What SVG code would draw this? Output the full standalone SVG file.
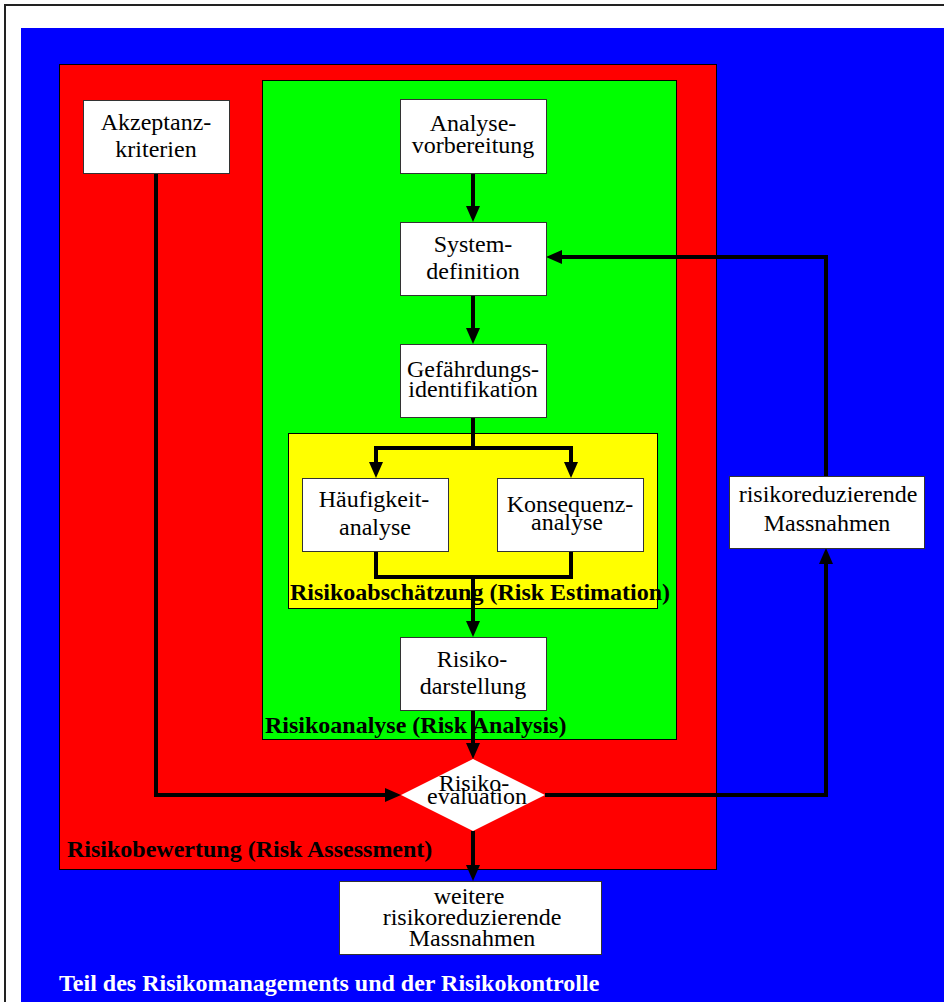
<svg xmlns="http://www.w3.org/2000/svg" width="944" height="1002" viewBox="0 0 944 1002">
  <defs>
    <style>
      .frame { fill: #ffffff; stroke: #222222; stroke-width: 2; }
      .zone { stroke: #000000; stroke-width: 1; }
      .box { fill: #ffffff; stroke: #333333; stroke-width: 1; }
      .txt { font-family: "Liberation Serif", "Times New Roman", serif; font-size: 24px; fill: #000000; text-anchor: middle; }
      .lbl { font-family: "Liberation Serif", "Times New Roman", serif; font-size: 24px; font-weight: bold; fill: #000000; }
      .wire { fill: none; stroke: #000000; stroke-width: 4; stroke-linejoin: miter; }
    </style>
    <marker id="arrow" markerUnits="userSpaceOnUse" markerWidth="16" markerHeight="14" refX="10" refY="7" orient="auto">
      <path d="M0,0 L16,7 L0,14 z" fill="#000000"/>
    </marker>
  </defs>

  <!-- page frame -->
  <rect class="frame" x="5" y="5" width="950" height="1010"/>

  <!-- nested zones -->
  <g id="zone-management">
    <rect x="21" y="28" width="930" height="980" fill="#0000ff"/>
    <text class="lbl" x="59" y="991" fill="#ffffff" style="fill:#ffffff">Teil des Risikomanagements und der Risikokontrolle</text>
  </g>
  <g id="zone-assessment">
    <rect class="zone" x="59.5" y="64.5" width="657" height="805" fill="#ff0000"/>
    <text class="lbl" x="67" y="857">Risikobewertung (Risk Assessment)</text>
  </g>
  <g id="zone-analysis">
    <rect class="zone" x="262.5" y="80.5" width="414" height="659" fill="#00ff00"/>
    <text class="lbl" x="265" y="733">Risikoanalyse (Risk Analysis)</text>
  </g>
  <g id="zone-estimation">
    <rect class="zone" x="288.5" y="433.5" width="369" height="175" fill="#ffff00"/>
    <text class="lbl" x="290" y="600">Risikoabschätzung (Risk Estimation)</text>
  </g>

  <!-- connectors -->
  <g id="connectors">
    <path class="wire" d="M473,173 V216" marker-end="url(#arrow)"/>
    <path class="wire" d="M473,295 V338" marker-end="url(#arrow)"/>
    <path class="wire" d="M473,417 V448"/>
    <path class="wire" d="M473,448 H376 V472" marker-end="url(#arrow)"/>
    <path class="wire" d="M473,448 H571 V472" marker-end="url(#arrow)"/>
    <path class="wire" d="M376,551 V577 H571 V551"/>
    <path class="wire" d="M473,577 V631" marker-end="url(#arrow)"/>
    <path class="wire" d="M473,710 V753" marker-end="url(#arrow)"/>
    <path class="wire" d="M156,173 V795 H395" marker-end="url(#arrow)"/>
    <path class="wire" d="M545,795 H826 V554" marker-end="url(#arrow)"/>
    <path class="wire" d="M826,476 V257 H552" marker-end="url(#arrow)"/>
    <path class="wire" d="M473,831 V875" marker-end="url(#arrow)"/>
  </g>

  <!-- nodes -->
  <g id="akzeptanzkriterien">
    <rect class="box" x="83.5" y="100.5" width="146" height="73"/>
    <text class="txt" x="156" y="130">Akzeptanz-</text>
    <text class="txt" x="156" y="157">kriterien</text>
  </g>
  <g id="analysevorbereitung">
    <rect class="box" x="400.5" y="99.5" width="146" height="74"/>
    <text class="txt" x="473" y="131">Analyse-</text>
    <text class="txt" x="473" y="153">vorbereitung</text>
  </g>
  <g id="systemdefinition">
    <rect class="box" x="400.5" y="222.5" width="146" height="73"/>
    <text class="txt" x="473" y="252">System-</text>
    <text class="txt" x="473" y="279">definition</text>
  </g>
  <g id="gefaehrdungsidentifikation">
    <rect class="box" x="400.5" y="344.5" width="146" height="73"/>
    <text class="txt" x="473" y="377">Gefährdungs-</text>
    <text class="txt" x="473" y="397">identifikation</text>
  </g>
  <g id="haeufigkeitanalyse">
    <rect class="box" x="302.5" y="478.5" width="146" height="73"/>
    <text class="txt" x="374" y="507">Häufigkeit-</text>
    <text class="txt" x="375" y="535">analyse</text>
  </g>
  <g id="konsequenzanalyse">
    <rect class="box" x="497.5" y="478.5" width="146" height="73"/>
    <text class="txt" x="570" y="512">Konsequenz-</text>
    <text class="txt" x="567" y="530">analyse</text>
  </g>
  <g id="risikodarstellung">
    <rect class="box" x="400.5" y="637.5" width="146" height="73"/>
    <text class="txt" x="472" y="667">Risiko-</text>
    <text class="txt" x="473" y="694">darstellung</text>
  </g>
  <g id="risikoevaluation">
    <polygon points="473,759 545,795 473,831 401,795" fill="#ffffff"/>
    <text class="txt" x="474" y="791">Risiko-</text>
    <text class="txt" x="477" y="804">evaluation</text>
  </g>
  <g id="risikoreduzierende-massnahmen">
    <rect class="box" x="729.5" y="476.5" width="195" height="72"/>
    <text class="txt" x="828" y="502">risikoreduzierende</text>
    <text class="txt" x="827" y="531">Massnahmen</text>
  </g>
  <g id="weitere-massnahmen">
    <rect class="box" x="339.5" y="881.5" width="262" height="73"/>
    <text class="txt" x="469" y="904">weitere</text>
    <text class="txt" x="472" y="925">risikoreduzierende</text>
    <text class="txt" x="472" y="946">Massnahmen</text>
  </g>
</svg>
